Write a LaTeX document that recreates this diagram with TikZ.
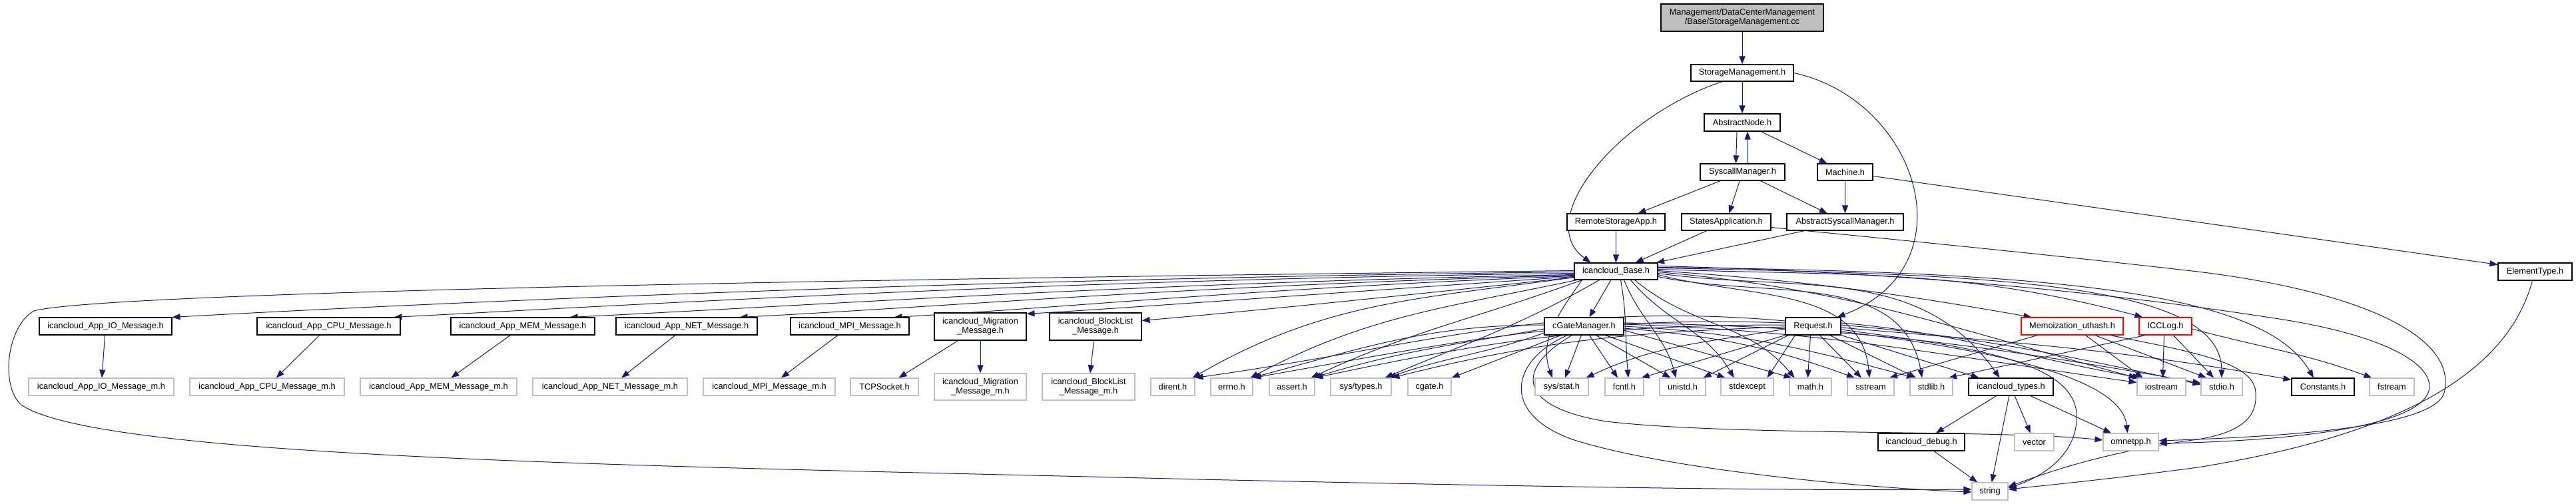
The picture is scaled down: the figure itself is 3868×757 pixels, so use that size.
\documentclass[tikz,border=0pt]{standalone}
\usepackage{fontspec}
\setmainfont{Liberation Sans}
\usetikzlibrary{arrows.meta}
\definecolor{edgecol}{HTML}{191970}
\definecolor{graybd}{HTML}{BFBFBF}
\definecolor{rootfill}{HTML}{BFBFBF}
\definecolor{redbd}{HTML}{FF0000}
\newcommand{\nodefont}{\fontsize{12.8}{14.2}\selectfont}
\pgfdeclarelayer{edgelayer}
\pgfsetlayers{edgelayer,main}
\begin{document}
\begin{tikzpicture}[x=1pt,y=1pt,
  box/.style={draw=black, line width=1.1pt, fill=white, minimum height=26pt, inner xsep=2pt, inner ysep=0pt, font=\nodefont, align=center, text=black},
  ext/.style={box, draw=graybd},
  redbox/.style={box, draw=redbd},
  arr/.style={draw=edgecol, line width=1pt, -{Triangle[length=12pt,width=9pt]}}
]
\useasboundingbox (0,0) rectangle (3868,-757);
% ---------- nodes ----------
\node[box, fill=rootfill, minimum width=244pt, minimum height=41pt] (ROOT) at (2616,-26.5) {Management/DataCenterManagement\\/Base/StorageManagement.cc};
\node[box, minimum width=154pt, minimum height=25pt] (SM) at (2616,-109.5) {StorageManagement.h};
\node[box, minimum width=114pt] (AN) at (2616,-184) {AbstractNode.h};
\node[box, minimum width=127pt, minimum height=25pt] (SYS) at (2616.5,-258.5) {SyscallManager.h};
\node[box, minimum width=83pt, minimum height=25pt] (MACH) at (2770.5,-258.5) {Machine.h};
\node[box, minimum width=147pt, minimum height=25pt] (RSA) at (2426.5,-333.5) {RemoteStorageApp.h};
\node[box, minimum width=134pt, minimum height=25pt] (STA) at (2592,-333.5) {StatesApplication.h};
\node[box, minimum width=175pt, minimum height=25pt] (ASM) at (2770.5,-333.5) {AbstractSyscallManager.h};
\node[box, minimum width=125pt, minimum height=25pt] (BASE) at (2426.5,-407.5) {icancloud\_Base.h};
\node[box, minimum width=111pt] (ELEM) at (3806.5,-408) {ElementType.h};
% second row
\node[box, minimum width=199pt] (IO) at (158.5,-490) {icancloud\_App\_IO\_Message.h};
\node[box, minimum width=215pt] (CPU) at (493.5,-490) {icancloud\_App\_CPU\_Message.h};
\node[box, minimum width=216pt] (MEM) at (785,-490) {icancloud\_App\_MEM\_Message.h};
\node[box, minimum width=212pt] (NET) at (1031,-490) {icancloud\_App\_NET\_Message.h};
\node[box, minimum width=178pt] (MPI) at (1276,-490) {icancloud\_MPI\_Message.h};
\node[box, minimum width=138pt, minimum height=41pt] (MIG) at (1472,-490.5) {icancloud\_Migration\\\_Message.h};
\node[box, minimum width=138pt, minimum height=41pt] (BL) at (1645,-490.5) {icancloud\_BlockList\\\_Message.h};
\node[box, minimum width=119pt] (CGM) at (2378.5,-490) {cGateManager.h};
\node[box, minimum width=83pt] (REQ) at (2722.5,-490) {Request.h};
\node[redbox, minimum width=153pt] (MEMO) at (3111.5,-490) {Memoization\_uthash.h};
\node[redbox, minimum width=79pt] (ICC) at (3251.5,-490) {ICCLog.h};
% third row
\node[ext, minimum width=218pt] (IOm) at (152,-581) {icancloud\_App\_IO\_Message\_m.h};
\node[ext, minimum width=232pt] (CPUm) at (401,-581) {icancloud\_App\_CPU\_Message\_m.h};
\node[ext, minimum width=235pt] (MEMm) at (658.5,-581) {icancloud\_App\_MEM\_Message\_m.h};
\node[ext, minimum width=232pt] (NETm) at (916,-581) {icancloud\_App\_NET\_Message\_m.h};
\node[ext, minimum width=198pt] (MPIm) at (1155,-581) {icancloud\_MPI\_Message\_m.h};
\node[ext, minimum width=102pt] (TCP) at (1328,-581) {TCPSocket.h};
\node[ext, minimum width=138pt, minimum height=40pt] (MIGm) at (1472,-581) {icancloud\_Migration\\\_Message\_m.h};
\node[ext, minimum width=139pt, minimum height=40pt] (BLm) at (1634.5,-581) {icancloud\_BlockList\\\_Message\_m.h};
\node[ext, minimum width=66pt] (DIR) at (1761,-581) {dirent.h};
\node[ext, minimum width=63pt] (ERR) at (1849.5,-581) {errno.h};
\node[ext, minimum width=68pt] (ASS) at (1940,-581) {assert.h};
\node[ext, minimum width=91pt] (TYP) at (2043.5,-581) {sys/types.h};
\node[ext, minimum width=65pt] (CGATE) at (2146.5,-581) {cgate.h};
\node[ext, minimum width=80pt] (STAT) at (2345,-581) {sys/stat.h};
\node[ext, minimum width=58pt] (FCNTL) at (2439,-581) {fcntl.h};
\node[ext, minimum width=69pt] (UNI) at (2526.5,-581) {unistd.h};
\node[ext, minimum width=79pt] (STDEXC) at (2623.5,-581) {stdexcept};
\node[ext, minimum width=63pt] (MATH) at (2718.5,-581) {math.h};
\node[ext, minimum width=70pt] (SST) at (2809,-581) {sstream};
\node[ext, minimum width=64pt] (STDLIB) at (2900,-581) {stdlib.h};
\node[box, minimum width=127pt] (TYPES) at (3019.5,-581) {icancloud\_types.h};
\node[ext, minimum width=73pt] (IOS) at (3245.5,-581) {iostream};
\node[ext, minimum width=62pt] (STDIO) at (3336,-581) {stdio.h};
\node[box, minimum width=94pt] (CONST) at (3488,-581) {Constants.h};
\node[ext, minimum width=67pt] (FSTR) at (3591.5,-581) {fstream};
% fourth / fifth row
\node[box, minimum width=130pt] (DBG) at (2885,-664) {icancloud\_debug.h};
\node[ext, minimum width=59pt] (VEC) at (3054.5,-664) {vector};
\node[ext, minimum width=83pt] (OMN) at (3199.5,-664) {omnetpp.h};
\node[ext, minimum width=54pt] (STR) at (2988,-738) {string};
\begin{pgfonlayer}{edgelayer}
% ---------- edges: top part ----------
\draw[arr] (ROOT) -- (SM);
\draw[arr] (SM) -- (AN);
\draw[arr] ([xshift=-30pt]SM.south) .. controls (2430,-175) and (2300,-330) .. ([xshift=-38pt]BASE.north);
\draw[arr] (SM.east) .. controls (2880,-150) and (2960,-400) .. ([xshift=-6pt]REQ.north east);
\draw[arr] ([xshift=-8pt]AN.south) -- ([xshift=-10pt]SYS.north);
\draw[arr] ([xshift=8pt]SYS.north) -- ([xshift=8pt]AN.south);
\draw[arr] (AN) -- (MACH);
\draw[arr] (SYS) -- (RSA);
\draw[arr] (SYS) -- (STA);
\draw[arr] (SYS) -- (ASM);
\draw[arr] (MACH) -- (ASM);
\draw[arr] ([yshift=-6pt]MACH.east) -- ([yshift=-3pt]ELEM.north west);
\draw[arr] (RSA) -- (BASE);
\draw[arr] (STA) -- (BASE);
\draw[arr] (ASM) -- (BASE);
\draw[arr] ([yshift=-8pt]STA.east) .. controls (2900,-365) and (3100,-385) .. (3300,-408) .. controls (3560,-440) and (3690,-510) .. (3670,-590) .. controls (3655,-640) and (3450,-655) .. ([yshift=2pt]OMN.east);
% ---------- icancloud_Base.h ----------
\draw[arr] ([yshift=-1pt]BASE.west) .. controls (1500,-418) and (700,-452) .. (IO.north east);
\draw[arr] ([yshift=-3pt]BASE.west) .. controls (1600,-420) and (1000,-455) .. ([xshift=-10pt]CPU.north east);
\draw[arr] ([yshift=-5pt]BASE.west) .. controls (1700,-425) and (1200,-460) .. ([xshift=-38pt]MEM.north east);
\draw[arr] ([yshift=-6pt]BASE.west) .. controls (1800,-428) and (1400,-462) .. ([xshift=-27pt]NET.north east);
\draw[arr] ([yshift=-7pt]BASE.west) .. controls (1900,-432) and (1600,-462) .. ([xshift=-23pt]MPI.north east);
\draw[arr] ([yshift=-8pt]BASE.west) .. controls (2000,-440) and (1700,-462) .. ([yshift=-2pt]MIG.north east);
\draw[arr] ([yshift=-9pt]BASE.west) .. controls (2100,-445) and (1850,-470) .. ([yshift=-12pt]BL.north east);
\draw[arr] ([yshift=1pt]BASE.west) .. controls (1200,-420) and (150,-440) .. (51,-467) .. controls (10,-490) and (0,-580) .. (32,-608) .. controls (150,-690) and (1000,-700) .. (1800,-720) .. controls (2400,-733) and (2700,-737) .. ([yshift=3pt]STR.west);
\draw[arr] ([yshift=4pt]BASE.south west) to[out=188,in=30] ([xshift=-4pt]DIR.north east);
\draw[arr] ([xshift=4pt]BASE.south west) to[out=192,in=28] ([xshift=-4pt]ERR.north east);
\draw[arr] ([xshift=12pt]BASE.south west) to[out=200,in=25] ([xshift=-6pt]ASS.north east);
\draw[arr] ([xshift=38pt]BASE.south west) to[out=210,in=23] ([xshift=-10pt]TYP.north east);
\draw[arr] ([xshift=12pt]BASE.south west) to[out=235,in=110] ([xshift=-14pt]STAT.north);
\draw[arr] (BASE) -- (CGM);
\draw[arr] ([xshift=7pt]BASE.south) to[out=-80,in=95] ([xshift=6pt]FCNTL.north);
\draw[arr] ([xshift=12pt]BASE.south) to[out=-68,in=105] ([xshift=-10pt]UNI.north);
\draw[arr] ([xshift=22pt]BASE.south) to[out=-50,in=120] ([xshift=-20pt]STDEXC.north);
\draw[arr] ([xshift=28pt]BASE.south) to[out=-40,in=130] ([xshift=-24pt]MATH.north);
\draw[arr] ([yshift=-5pt]BASE.east) to[out=-15,in=95] ([xshift=-2pt]SST.north);
\draw[arr] ([yshift=-8pt]BASE.east) to[out=-12,in=100] ([xshift=-14pt]STDLIB.north);
\draw[arr] ([yshift=-3pt]BASE.east) to[out=-8,in=125] ([xshift=-17pt]TYPES.north);
\draw[arr] ([yshift=-1pt]BASE.east) to[out=-5,in=165] (IOS.north west);
\draw[arr] ([yshift=1pt]BASE.east) to[out=-4,in=170] ([xshift=16pt]MEMO.north west);
\draw[arr] ([yshift=3pt]BASE.east) to[out=-2,in=165] ([xshift=6pt]ICC.north west);
\draw[arr] ([yshift=5pt]BASE.east) .. controls (3000,-412) and (3335,-425) .. (STDIO.north);
\draw[arr] ([yshift=6pt]BASE.east) .. controls (3100,-408) and (3400,-440) .. ([xshift=-14pt]CONST.north);
\draw[arr] ([yshift=8pt]BASE.east) .. controls (2900,-410) and (3200,-445) .. (3409,-477) .. controls (3600,-505) and (3660,-555) .. (3646,-590) .. controls (3625,-640) and (3450,-662) .. ([yshift=-2pt]OMN.east);
% ---------- message headers ----------
\draw[arr] (IO) -- (IOm);
\draw[arr] (CPU) -- (CPUm);
\draw[arr] (MEM) -- (MEMm);
\draw[arr] (NET) -- (NETm);
\draw[arr] (MPI) -- (MPIm);
\draw[arr] (MIG) -- (TCP);
\draw[arr] (MIG) -- (MIGm);
\draw[arr] (BL) -- (BLm);
% ---------- cGateManager.h ----------
\draw[arr] ([yshift=2pt]CGM.west) to[out=180,in=15] ([xshift=-2pt]ERR.north east);
\draw[arr] ([yshift=-4pt]CGM.west) to[out=190,in=17] ([xshift=-3pt]ASS.north east);
\draw[arr] ([yshift=-10pt]CGM.west) to[out=200,in=20] ([xshift=-5pt]TYP.north east);
\draw[arr] (CGM) -- (CGATE.north east);
\draw[arr] ([xshift=-4pt]CGM.south) -- ([xshift=5pt]STAT.north);
\draw[arr] ([xshift=8pt]CGM.south) -- ([xshift=-10pt]FCNTL.north);
\draw[arr] ([xshift=18pt]CGM.south) -- ([xshift=-18pt]UNI.north);
\draw[arr] ([xshift=32pt]CGM.south) -- ([xshift=-33pt]STDEXC.north);
\draw[arr] ([yshift=-6pt]CGM.east) -- ([xshift=-28pt]MATH.north);
\draw[arr] ([yshift=-3pt]CGM.east) to[out=-5,in=160] ([xshift=-24pt]SST.north);
\draw[arr] (CGM.east) to[out=-3,in=165] ([xshift=-25pt]STDLIB.north);
\draw[arr] ([yshift=3pt]CGM.east) to[out=-2,in=172] ([yshift=-7pt]IOS.north west);
\draw[arr] ([yshift=5pt]CGM.east) to[out=-1,in=170] ([yshift=-8pt]STDIO.north west);
\draw[arr] ([xshift=-25pt]CGM.south) .. controls (2270,-540) and (2250,-620) .. (2361,-660) .. controls (2500,-705) and (2800,-733) .. ([yshift=-1pt]STR.west);
\draw[arr] ([xshift=-18pt]CGM.south) .. controls (2280,-550) and (2270,-610) .. (2412,-633) .. controls (2600,-655) and (3000,-645) .. ([yshift=3pt]OMN.west);
% ---------- Request.h ----------
\draw[arr] ([yshift=8pt]REQ.west) to[out=175,in=8] (DIR.north east);
\draw[arr] ([yshift=5pt]REQ.west) to[out=178,in=10] (ERR.north east);
\draw[arr] ([yshift=2pt]REQ.west) to[out=180,in=12] (ASS.north east);
\draw[arr] ([yshift=-1pt]REQ.west) to[out=182,in=14] (TYP.north east);
\draw[arr] ([yshift=-4pt]REQ.west) to[out=190,in=25] ([xshift=-4pt]STAT.north east);
\draw[arr] (REQ.south west) -- ([xshift=-4pt]FCNTL.north east);
\draw[arr] ([xshift=5pt]REQ.south west) -- ([xshift=-4pt]UNI.north east);
\draw[arr] ([xshift=15pt]REQ.south west) -- ([xshift=-10pt]STDEXC.north east);
\draw[arr] ([xshift=-4pt]REQ.south) -- ([xshift=-4pt]MATH.north);
\draw[arr] ([xshift=10pt]REQ.south) -- ([xshift=-14pt]SST.north);
\draw[arr] ([xshift=25pt]REQ.south) -- ([xshift=-23pt]STDLIB.north);
\draw[arr] (REQ.south east) -- ([xshift=-48pt]TYPES.north);
\draw[arr] ([yshift=5pt]REQ.east) to[out=-5,in=170] ([xshift=6pt]IOS.north west);
\draw[arr] ([yshift=2pt]REQ.east) to[out=-5,in=168] ([yshift=-10pt]STDIO.north west);
\draw[arr] ([yshift=-2pt]REQ.east) to[out=-5,in=170] ([yshift=-3pt]CONST.north west);
\draw[arr] ([yshift=-5pt]REQ.east) .. controls (2950,-520) and (3110,-540) .. (3118,-620) .. controls (3122,-680) and (3070,-715) .. ([yshift=5pt]STR.east);
\draw[arr] ([yshift=-8pt]REQ.east) .. controls (2950,-520) and (3185,-560) .. ([xshift=-5pt]OMN.north);
% ---------- Memoization / ICCLog ----------
\draw[arr] ([xshift=25pt]MEMO.south west) -- ([xshift=28pt]SST.north);
\draw[arr] ([xshift=20pt]MEMO.south) -- ([xshift=-28pt]IOS.north);
\draw[arr] ([xshift=34pt]MEMO.south) -- ([xshift=-23pt]STDIO.north);
\draw[arr] ([xshift=-20pt]MEMO.south east) .. controls (3300,-530) and (3385,-545) .. (3387,-590) .. controls (3390,-630) and (3360,-650) .. (3300,-660) .. controls (3150,-680) and (3060,-715) .. ([yshift=7pt]STR.east);
\draw[arr] ([xshift=10pt]ICC.south west) -- ([xshift=26pt]STDLIB.north);
\draw[arr] ([xshift=-2pt]ICC.south) -- ([xshift=2pt]IOS.north);
\draw[arr] ([xshift=12pt]ICC.south) -- ([xshift=-12pt]STDIO.north);
\draw[arr] ([yshift=-4pt]ICC.east) to[out=-15,in=160] ([xshift=4pt]FSTR.north west);
% ---------- lower part ----------
\draw[arr] (TYPES) -- (DBG);
\draw[arr] (TYPES) -- (STR);
\draw[arr] (TYPES) -- (VEC);
\draw[arr] (TYPES) -- (OMN);
\draw[arr] (DBG) -- (STR);
\draw[arr] ([xshift=-4pt]ELEM.south) .. controls (3760,-580) and (3560,-660) .. (3300,-702) .. controls (3150,-722) and (3060,-730) .. ([yshift=3pt]STR.east);
\end{pgfonlayer}
\end{tikzpicture}
\end{document}
